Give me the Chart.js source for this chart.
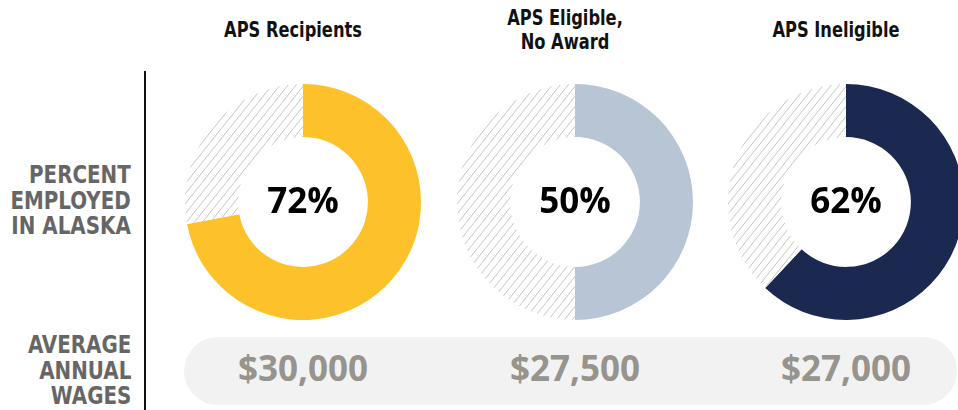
<!DOCTYPE html>
<html>
<head>
<meta charset="utf-8">
<script src="https://cdn.jsdelivr.net/npm/chart.js@4.4.1/dist/chart.umd.min.js"></script>
<style>
  html, body { margin: 0; padding: 0; }
  body { width: 958px; height: 410px; position: relative; overflow: hidden; background: #fff; }
  .title { position: absolute; width: 240px; text-align: center; font-family: "DejaVu Sans Condensed", sans-serif; font-weight: bold; font-size: 21px; line-height: 24px; color: #111; transform: scaleX(0.86); transform-origin: center; }
  .rowlabel { position: absolute; right: 827px; text-align: right; font-family: "DejaVu Sans Condensed", sans-serif; font-weight: bold; font-size: 24px; line-height: 25.5px; color: #666; transform: scaleX(0.92); transform-origin: right; }
  .vline { position: absolute; left: 144px; top: 71px; width: 2px; height: 339px; background: #111; }
  .pill { position: absolute; left: 184px; top: 337px; width: 773px; height: 68px; border-radius: 34px; background: #f2f2f2; }
  .donut { position: absolute; width: 236px; height: 236px; }
  .pct { position: absolute; width: 140px; text-align: center; font-family: "Open Sans", sans-serif; font-weight: bold; font-size: 35px; line-height: 40px; color: #000; }
  .wage { position: absolute; width: 200px; text-align: center; font-family: "Open Sans", sans-serif; font-weight: bold; font-size: 35px; line-height: 40px; color: #96948d; }
</style>
</head>
<body>
<div class="vline"></div>
<div class="rowlabel" style="top:163px">PERCENT<br>EMPLOYED<br>IN ALASKA</div>
<div class="rowlabel" style="top:333px">AVERAGE<br>ANNUAL<br>WAGES</div>
<div class="pill"></div>
<div id="root"></div>
<script>
const categories = ['APS Recipients', 'APS Eligible,\nNo Award', 'APS Ineligible'];
const percentEmployed = [72, 50, 62];
const averageWages = [30000, 27500, 27000];
const sliceColors = ['#fdc22a', '#b7c5d5', '#1b2850'];

// layout
const centersX = [303, 575, 846];
const centerY = 202;
const radius = 118;

function hatchPattern() {
    const w = 8, h = 10;
    const c = document.createElement('canvas');
    c.width = w;
    c.height = h;
    const g = c.getContext('2d');
    g.fillStyle = '#ffffff';
    g.fillRect(0, 0, w, h);
    g.strokeStyle = '#bdbdbd';
    g.lineWidth = 0.9;
    g.beginPath();
    for (let k = -1; k <= 1; k++) {
        g.moveTo(k * w, h);
        g.lineTo(k * w + w, 0);
    }
    g.stroke();
    return g.createPattern(c, 'repeat');
}

const root = document.getElementById('root');
const hatch = hatchPattern();

categories.forEach((cat, i) => {
    const t = document.createElement('div');
    t.className = 'title';
    t.style.left = (centersX[i] - 120 - 10) + 'px';
    const lines = cat.split('\n');
    t.style.top = (lines.length > 1 ? 6 : 18) + 'px';
    t.innerHTML = lines.join('<br>');
    root.appendChild(t);

    const box = document.createElement('div');
    box.className = 'donut';
    box.style.left = (centersX[i] - radius) + 'px';
    box.style.top = (centerY - radius) + 'px';
    const cv = document.createElement('canvas');
    box.appendChild(cv);
    root.appendChild(box);

    new Chart(cv, {
        type: 'doughnut',
        data: {
            labels: ['Employed in Alaska', 'Other'],
            datasets: [{
                data: [percentEmployed[i], 100 - percentEmployed[i]],
                backgroundColor: [sliceColors[i], hatch],
                borderWidth: 0
            }]
        },
        options: {
            responsive: true,
            maintainAspectRatio: false,
            animation: false,
            cutout: '55%',
            plugins: {
                legend: { display: false },
                tooltip: { enabled: false }
            }
        }
    });

    const p = document.createElement('div');
    p.className = 'pct';
    p.style.left = (centersX[i] - 70) + 'px';
    p.style.top = (centerY - 22) + 'px';
    p.textContent = percentEmployed[i] + '%';
    root.appendChild(p);

    const w = document.createElement('div');
    w.className = 'wage';
    w.style.left = (centersX[i] - 100) + 'px';
    w.style.top = '348px';
    w.textContent = '$' + averageWages[i].toLocaleString('en-US');
    root.appendChild(w);
});
</script>
</body>
</html>
